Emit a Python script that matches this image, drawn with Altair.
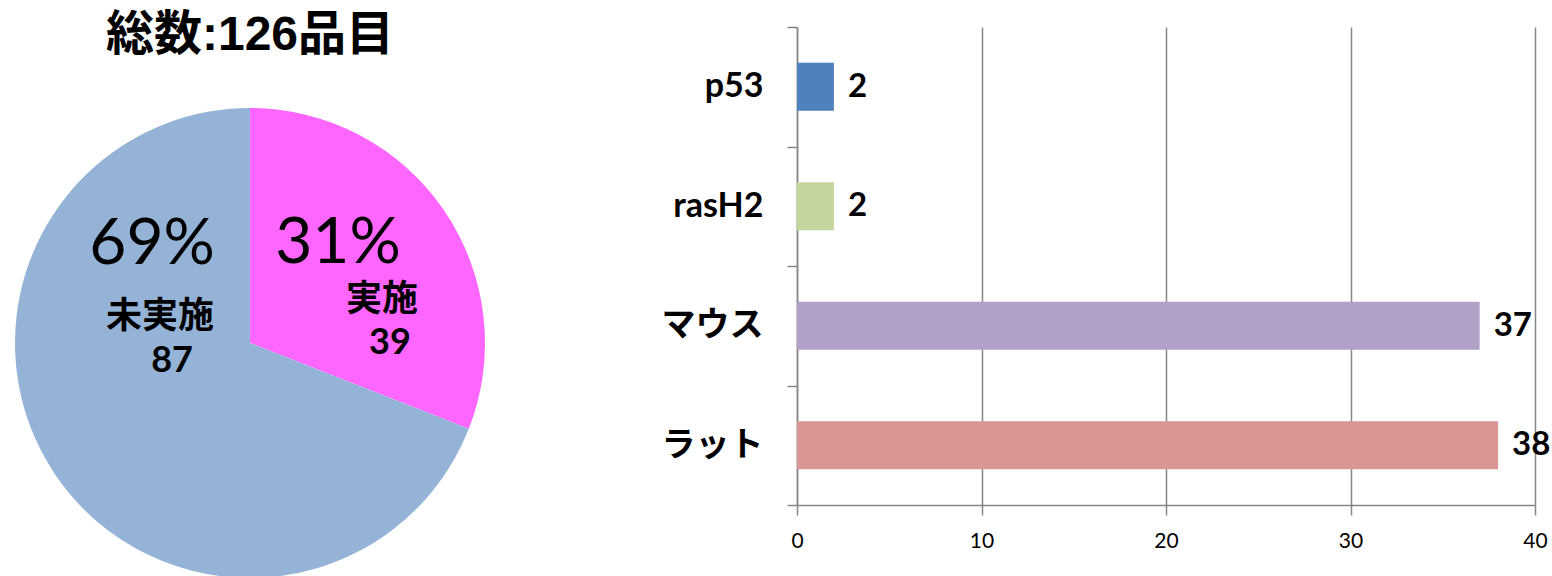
import math
import altair as alt
import pandas as pd

# ---- data ----
title_text = "総数:126品目"
pie_labels = ["実施", "未実施"]
pie_counts = [39, 87]
pie_pct = ["31%", "69%"]
pie_order = [0, 1]
pie_colors = ["#FF66FF", "#95B3D7"]

bar_labels = ["p53", "rasH2", "マウス", "ラット"]
bar_values = [2, 2, 37, 38]
bar_colors = ["#4F81BD", "#C3D69B", "#B2A1C7", "#D99694"]
x_ticks = [0, 10, 20, 30, 40]

FONT = "Lato, Noto Sans CJK JP"
TFONT = "Liberation Sans, Noto Sans CJK JP"
GRID = "#868686"

# ---- pie ----
pie_df = pd.DataFrame({"status": pie_labels, "count": pie_counts,
                       "pct": pie_pct, "order": pie_order})
pie_base = (
    alt.Chart(pie_df)
    .transform_joinaggregate(total="sum(count)")
    .transform_window(cum="sum(count)", sort=[alt.SortField("order")], frame=[None, 0])
    .transform_calculate(
        t0="(datum.cum - datum.count) / datum.total",
        t1="datum.cum / datum.total",
        tm="(datum.cum - datum.count / 2) / datum.total",
    )
)
tscale = alt.Scale(domain=[0, 1], range=[0, 2 * math.pi])
CX, CY, R = 250, 316, 235

arc = pie_base.mark_arc(outerRadius=R, clip=True).encode(
    theta=alt.Theta("t0:Q", scale=tscale),
    theta2="t1:Q",
    color=alt.Color("status:N", scale=alt.Scale(domain=pie_labels, range=pie_colors), legend=None),
    x=alt.value(CX), y=alt.value(CY),
)


def pie_text(status, field, dx, dy, size, weight):
    return pie_base.transform_filter(alt.datum.status == status).mark_text(
        radius=150, dx=dx, dy=dy, fontSize=size, fontWeight=weight, font=FONT,
        align="center", baseline="middle", color="black",
    ).encode(
        theta=alt.Theta("tm:Q", scale=tscale),
        text=alt.Text(field),
        x=alt.value(CX), y=alt.value(CY),
    )


pie_texts = [
    pie_text("実施", "pct:N", -36, -15, 64, "normal"),
    pie_text("実施", "status:N", 8, 41, 36, "bold"),
    pie_text("実施", "count:Q", 16, 84, 36, "bold"),
    pie_text("未実施", "pct:N", 26, -182, 64, "normal"),
    pie_text("未実施", "status:N", 34, -110, 36, "bold"),
    pie_text("未実施", "count:Q", 46, -66, 36, "bold"),
]

title = alt.Chart(pd.DataFrame({"t": [title_text]})).mark_text(
    fontSize=48, fontWeight="bold", font=TFONT, color="black",
    align="center", baseline="middle",
).encode(text="t:N", x=alt.value(CX), y=alt.value(9))

pie = alt.layer(arc, *pie_texts, title).properties(width=500, height=549)

# ---- bar ----
bar_df = pd.DataFrame({"cat": bar_labels, "value": bar_values})
ysc = alt.Scale(domain=bar_labels, paddingInner=0, paddingOuter=0)
xsc = alt.Scale(domain=[0, 40], nice=False, zero=True)

y_enc = alt.Y("cat:N", scale=ysc, sort=bar_labels, axis=alt.Axis(
    title=None, tickBand="extent", tickSize=10, labelPadding=24,
    labelFontSize=34, labelFont=FONT, labelFontWeight="bold", labelColor="black",
    domainColor=GRID, tickColor=GRID, domainWidth=1.5, tickWidth=1.5,
    minExtent=137, maxExtent=137, grid=False,
))
x_enc = alt.X("value:Q", scale=xsc, axis=alt.Axis(
    title=None, values=x_ticks, grid=True, gridColor=GRID, gridWidth=1.5,
    tickSize=10, tickColor=GRID, tickWidth=1.5, domainColor=GRID, domainWidth=1.5,
    labelFontSize=21, labelFont=FONT, labelColor="black", labelPadding=15,
    labelFlush=False, format="d",
))

bars = alt.Chart(bar_df).mark_bar(height=alt.RelativeBandSize(0.4)).encode(
    y=y_enc, x=x_enc,
    color=alt.Color("cat:N", scale=alt.Scale(domain=bar_labels, range=bar_colors), legend=None),
)
bar_text = alt.Chart(bar_df).mark_text(
    align="left", baseline="middle", dx=14, fontSize=33, fontWeight="bold",
    font=FONT, color="black",
).encode(y=alt.Y("cat:N", scale=ysc, sort=bar_labels), x=alt.X("value:Q", scale=xsc), text="value:Q")

bar = alt.layer(bars, bar_text).properties(width=738, height=478)

chart = alt.hconcat(pie, bar, spacing=160).resolve_scale(color="independent").properties(
    padding={"left": 0, "top": 10, "right": 0, "bottom": 0}, background="white",
).configure_view(stroke=None)

chart.save("out.html", embed_options={"renderer": "svg", "actions": False})
